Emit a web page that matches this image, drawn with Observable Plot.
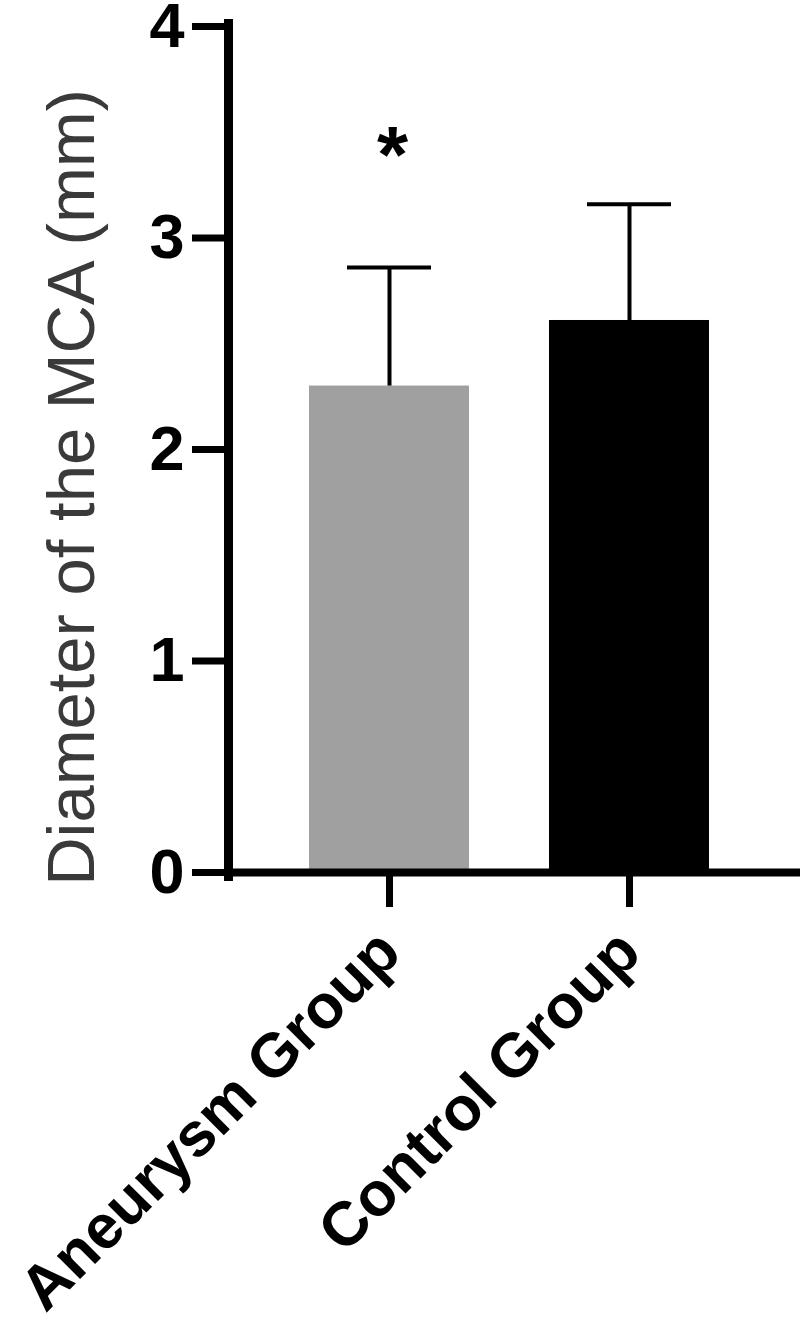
<!DOCTYPE html>
<html>
<head>
<meta charset="utf-8">
<script src="https://cdn.jsdelivr.net/npm/d3@7"></script>
<script src="https://cdn.jsdelivr.net/npm/@observablehq/plot@0.6"></script>
<style>
  html, body { margin: 0; padding: 0; background: #fff; }
  #chart svg { overflow: visible; }
</style>
</head>
<body>
<div id="chart"></div>
<script>
const groups = ["Aneurysm Group", "Control Group"];
const means = [2.30, 2.61];
const sds = [0.56, 0.55];
const colors = ["#a0a0a1", "#000000"];
const yTicks = [0, 1, 2, 3, 4];
const yLabel = "Diameter of the MCA (mm)";
const sigGroups = ["Aneurysm Group"];
const sigLevel = [3.45];
const sigText = ["*"];

const data = groups.map((g, i) => ({group: g, mean: means[i], sd: sds[i], top: means[i] + sds[i], color: colors[i]}));
const sig = sigGroups.map((g, i) => ({group: g, y: sigLevel[i], text: sigText[i]}));

const chart = Plot.plot({
  width: 800,
  height: 1329,
  marginTop: 26,
  marginBottom: 457,
  marginLeft: 228,
  marginRight: 10,
  style: {fontFamily: "'Liberation Sans', Arial, sans-serif", background: "#fff", color: "#000"},
  x: {domain: groups, padding: 0.335, label: null},
  y: {domain: [0, 4], label: null},
  marks: [
    Plot.barY(data, {x: "group", y: "mean", fill: "color"}),
    Plot.ruleX(data, {x: "group", y1: "mean", y2: "top", stroke: "#000", strokeWidth: 4}),
    Plot.tickY(data, {x: "group", y: "top", stroke: "#000", strokeWidth: 4, insetLeft: 38, insetRight: 38}),
    Plot.text(sig, {x: "group", y: "y", text: "text", fontSize: 80, fontWeight: "bold", fill: "#000", dy: 14, dx: 3}),
    Plot.ruleY([0], {stroke: "#000", strokeWidth: 8, insetRight: -10}),
    Plot.frame({anchor: "left", stroke: "#000", strokeWidth: 9, insetTop: -3, insetBottom: -4}),
    Plot.axisY({ticks: yTicks, tickFormat: d => String(d), tickSize: 36, tickPadding: 8, fontSize: 63, fontWeight: "bold", stroke: "#000", strokeWidth: 7, fill: "#000", label: null}),
    Plot.axisX({tickSize: 35, tickPadding: 34, tickRotate: -45, fontSize: 62, fontWeight: "bold", stroke: "#000", strokeWidth: 7, fill: "#000", label: null}),
    Plot.text([yLabel], {frameAnchor: "left", text: d => d, rotate: -90, dx: -156, dy: 38, fontSize: 67, fill: "#3a3a3a", textAnchor: "middle", lineAnchor: "middle"})
  ]
});
document.getElementById("chart").appendChild(chart);
</script>
</body>
</html>
